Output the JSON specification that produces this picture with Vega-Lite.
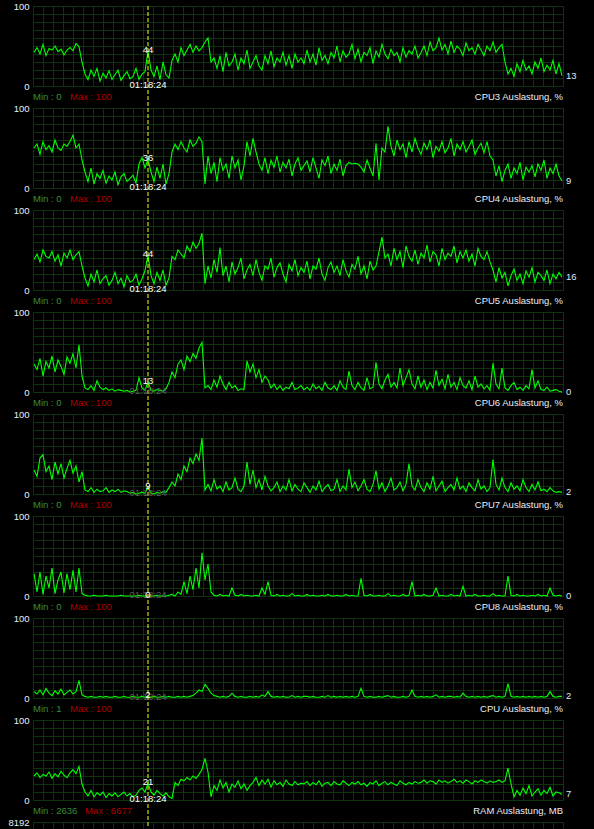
{
"$schema":"https://vega.github.io/schema/vega-lite/v6.json",
"background":"#000000",
"padding":{"left":7,"top":1,"right":18,"bottom":0},
"autosize":{"type":"pad"},
"spacing":22,
"bounds":"flush",
"config":{
 "view":{"stroke":null},
 "axis":{"domain":false,"ticks":false,"tickSize":0,"gridColor":"#0e340e","gridOpacity":1,"gridWidth":1,"labelColor":"#e8eef8","labelFont":"Liberation Sans","labelFontSize":9.5,"labelPadding":3.872},
 "text":{"font":"Liberation Sans","fontSize":9.5,"baseline":"middle"},
 "line":{"color":"#00ff00","strokeWidth":1.1},
 "rule":{"color":"#ffff00","strokeDash":[4,2],"strokeWidth":1,"xOffset":0.5}
},
"datasets":{"m":[
{"t":1,"a":42,"b":50,"c":38,"d":35,"e":30,"f":28,"g":8,"h":30},
{"t":4,"a":48,"b":55,"c":45,"d":28,"e":22,"f":5,"g":5,"h":34},
{"t":7,"a":40,"b":42,"c":35,"d":42,"e":45,"f":30,"g":10,"h":28},
{"t":10,"a":52,"b":58,"c":50,"d":20,"e":49,"f":2,"g":4,"h":32},
{"t":13,"a":38,"b":48,"c":42,"d":38,"e":28,"f":25,"g":12,"h":30},
{"t":16,"a":47,"b":53,"c":40,"d":30,"e":35,"f":10,"g":6,"h":35},
{"t":19,"a":45,"b":45,"c":48,"d":45,"e":18,"f":35,"g":3,"h":27},
{"t":22,"a":50,"b":60,"c":36,"d":25,"e":40,"f":3,"g":9,"h":33},
{"t":25,"a":43,"b":50,"c":44,"d":40,"e":25,"f":20,"g":5,"h":29},
{"t":28,"a":46,"b":47,"c":30,"d":32,"e":38,"f":30,"g":11,"h":36},
{"t":31,"a":39,"b":55,"c":46,"d":22,"e":20,"f":4,"g":4,"h":31},
{"t":34,"a":45,"b":52,"c":40,"d":44,"e":32,"f":28,"g":7,"h":28},
{"t":37,"a":48,"b":58,"c":50,"d":36,"e":42,"f":8,"g":10,"h":34},
{"t":40,"a":44,"b":66,"c":38,"d":48,"e":26,"f":32,"g":5,"h":38},
{"t":43,"a":53,"b":50,"c":44,"d":30,"e":35,"f":5,"g":8,"h":33},
{"t":46,"a":49,"b":55,"c":48,"d":59,"e":15,"f":35,"g":22,"h":42},
{"t":49,"a":30,"b":35,"c":30,"d":20,"e":28,"f":3,"g":4,"h":20},
{"t":52,"a":15,"b":20,"c":15,"d":5,"e":5,"f":1,"g":2,"h":10},
{"t":55,"a":8,"b":8,"c":5,"d":3,"e":3,"f":0,"g":1,"h":5},
{"t":58,"a":20,"b":25,"c":20,"d":8,"e":8,"f":0,"g":2,"h":12},
{"t":61,"a":12,"b":5,"c":10,"d":2,"e":2,"f":1,"g":1,"h":4},
{"t":64,"a":22,"b":18,"c":25,"d":14,"e":6,"f":0,"g":1,"h":9},
{"t":67,"a":6,"b":12,"c":8,"d":6,"e":3,"f":0,"g":2,"h":6},
{"t":70,"a":16,"b":22,"c":14,"d":3,"e":4,"f":0,"g":1,"h":10},
{"t":73,"a":10,"b":6,"c":18,"d":5,"e":8,"f":1,"g":2,"h":3},
{"t":76,"a":19,"b":15,"c":6,"d":2,"e":2,"f":0,"g":1,"h":8},
{"t":79,"a":8,"b":10,"c":12,"d":4,"e":5,"f":0,"g":1,"h":5},
{"t":82,"a":14,"b":20,"c":22,"d":1,"e":3,"f":0,"g":2,"h":9},
{"t":85,"a":20,"b":4,"c":8,"d":3,"e":6,"f":0,"g":1,"h":4},
{"t":88,"a":7,"b":14,"c":15,"d":2,"e":2,"f":1,"g":1,"h":7},
{"t":91,"a":13,"b":18,"c":4,"d":1,"e":4,"f":0,"g":2,"h":10},
{"t":94,"a":18,"b":8,"c":18,"d":2,"e":3,"f":0,"g":1,"h":5},
{"t":97,"a":9,"b":12,"c":10,"d":0,"e":1,"f":0,"g":1,"h":8},
{"t":100,"a":12,"b":16,"c":12,"d":1,"e":2,"f":0,"g":2,"h":4},
{"t":103,"a":22,"b":6,"c":20,"d":2,"e":0,"f":0,"g":1,"h":6},
{"t":106,"a":8,"b":30,"c":6,"d":18,"e":1,"f":1,"g":1,"h":12},
{"t":109,"a":15,"b":38,"c":14,"d":5,"e":2,"f":0,"g":2,"h":15},
{"t":112,"a":18,"b":25,"c":24,"d":2,"e":1,"f":0,"g":1,"h":10},
{"t":115,"a":44,"b":36,"c":44,"d":13,"e":9,"f":0,"g":2,"h":21},
{"t":118,"a":20,"b":20,"c":18,"d":2,"e":1,"f":0,"g":1,"h":10},
{"t":121,"a":12,"b":8,"c":8,"d":1,"e":0,"f":0,"g":2,"h":6},
{"t":124,"a":25,"b":26,"c":22,"d":3,"e":2,"f":1,"g":1,"h":12},
{"t":127,"a":8,"b":12,"c":12,"d":2,"e":1,"f":0,"g":1,"h":8},
{"t":130,"a":30,"b":30,"c":25,"d":1,"e":3,"f":0,"g":2,"h":5},
{"t":133,"a":14,"b":5,"c":6,"d":4,"e":2,"f":0,"g":1,"h":9},
{"t":136,"a":10,"b":18,"c":15,"d":12,"e":8,"f":1,"g":2,"h":4},
{"t":139,"a":32,"b":45,"c":42,"d":25,"e":15,"f":2,"g":1,"h":2},
{"t":142,"a":40,"b":55,"c":38,"d":18,"e":10,"f":0,"g":1,"h":22},
{"t":145,"a":30,"b":48,"c":50,"d":35,"e":25,"f":5,"g":2,"h":18},
{"t":148,"a":48,"b":58,"c":45,"d":40,"e":18,"f":2,"g":1,"h":26},
{"t":151,"a":38,"b":50,"c":40,"d":28,"e":35,"f":18,"g":2,"h":24},
{"t":154,"a":45,"b":45,"c":55,"d":45,"e":28,"f":3,"g":1,"h":28},
{"t":157,"a":52,"b":60,"c":48,"d":38,"e":45,"f":25,"g":2,"h":25},
{"t":160,"a":42,"b":52,"c":60,"d":48,"e":38,"f":8,"g":3,"h":30},
{"t":163,"a":50,"b":56,"c":52,"d":42,"e":50,"f":35,"g":6,"h":27},
{"t":166,"a":44,"b":64,"c":58,"d":55,"e":42,"f":10,"g":10,"h":32},
{"t":169,"a":48,"b":58,"c":71,"d":62,"e":70,"f":54,"g":8,"h":38},
{"t":172,"a":55,"b":5,"c":8,"d":5,"e":5,"f":20,"g":17,"h":52},
{"t":175,"a":60,"b":40,"c":30,"d":8,"e":12,"f":40,"g":12,"h":35},
{"t":178,"a":30,"b":18,"c":15,"d":3,"e":4,"f":5,"g":6,"h":4},
{"t":181,"a":35,"b":32,"c":38,"d":15,"e":18,"f":1,"g":3,"h":18},
{"t":184,"a":22,"b":8,"c":22,"d":6,"e":6,"f":0,"g":2,"h":12},
{"t":187,"a":38,"b":38,"c":53,"d":20,"e":10,"f":2,"g":1,"h":25},
{"t":190,"a":18,"b":22,"c":18,"d":10,"e":3,"f":0,"g":2,"h":15},
{"t":193,"a":42,"b":30,"c":30,"d":3,"e":15,"f":1,"g":1,"h":22},
{"t":196,"a":25,"b":12,"c":10,"d":12,"e":5,"f":0,"g":2,"h":10},
{"t":199,"a":30,"b":40,"c":35,"d":5,"e":8,"f":10,"g":6,"h":20},
{"t":202,"a":40,"b":25,"c":20,"d":8,"e":20,"f":1,"g":2,"h":16},
{"t":205,"a":20,"b":35,"c":28,"d":2,"e":6,"f":0,"g":1,"h":24},
{"t":208,"a":35,"b":10,"c":40,"d":4,"e":3,"f":2,"g":2,"h":14},
{"t":211,"a":28,"b":28,"c":14,"d":3,"e":10,"f":0,"g":1,"h":20},
{"t":214,"a":45,"b":58,"c":25,"d":39,"e":40,"f":1,"g":1,"h":12},
{"t":217,"a":22,"b":40,"c":32,"d":25,"e":12,"f":0,"g":2,"h":18},
{"t":220,"a":30,"b":62,"c":18,"d":35,"e":30,"f":0,"g":1,"h":22},
{"t":223,"a":38,"b":45,"c":38,"d":18,"e":8,"f":1,"g":2,"h":28},
{"t":226,"a":25,"b":30,"c":22,"d":28,"e":18,"f":0,"g":1,"h":18},
{"t":229,"a":20,"b":22,"c":12,"d":12,"e":5,"f":10,"g":4,"h":25},
{"t":232,"a":38,"b":38,"c":30,"d":20,"e":22,"f":2,"g":2,"h":20},
{"t":235,"a":28,"b":18,"c":26,"d":15,"e":10,"f":18,"g":8,"h":26},
{"t":238,"a":44,"b":35,"c":40,"d":5,"e":4,"f":1,"g":2,"h":16},
{"t":241,"a":24,"b":26,"c":16,"d":10,"e":8,"f":0,"g":1,"h":24},
{"t":244,"a":35,"b":40,"c":28,"d":3,"e":15,"f":2,"g":2,"h":19},
{"t":247,"a":30,"b":20,"c":34,"d":8,"e":3,"f":0,"g":1,"h":22},
{"t":250,"a":42,"b":32,"c":20,"d":2,"e":10,"f":1,"g":2,"h":17},
{"t":253,"a":26,"b":25,"c":10,"d":6,"e":5,"f":0,"g":1,"h":25},
{"t":256,"a":38,"b":36,"c":32,"d":4,"e":18,"f":0,"g":1,"h":20},
{"t":259,"a":22,"b":15,"c":24,"d":12,"e":4,"f":3,"g":3,"h":18},
{"t":262,"a":40,"b":30,"c":38,"d":3,"e":12,"f":0,"g":1,"h":23},
{"t":265,"a":30,"b":38,"c":18,"d":5,"e":6,"f":1,"g":2,"h":19},
{"t":268,"a":35,"b":22,"c":28,"d":8,"e":3,"f":0,"g":1,"h":21},
{"t":271,"a":28,"b":28,"c":22,"d":3,"e":14,"f":0,"g":2,"h":20},
{"t":274,"a":45,"b":34,"c":36,"d":6,"e":8,"f":2,"g":2,"h":23},
{"t":277,"a":30,"b":20,"c":14,"d":2,"e":2,"f":0,"g":1,"h":18},
{"t":280,"a":40,"b":38,"c":30,"d":10,"e":10,"f":1,"g":2,"h":22},
{"t":283,"a":26,"b":25,"c":26,"d":4,"e":5,"f":0,"g":1,"h":19},
{"t":286,"a":48,"b":12,"c":40,"d":7,"e":16,"f":0,"g":1,"h":24},
{"t":289,"a":32,"b":35,"c":20,"d":2,"e":3,"f":1,"g":2,"h":17},
{"t":292,"a":38,"b":28,"c":12,"d":12,"e":8,"f":0,"g":1,"h":21},
{"t":295,"a":28,"b":40,"c":28,"d":5,"e":12,"f":2,"g":3,"h":22},
{"t":298,"a":42,"b":18,"c":35,"d":3,"e":4,"f":0,"g":1,"h":18},
{"t":301,"a":35,"b":30,"c":22,"d":8,"e":6,"f":0,"g":2,"h":23},
{"t":304,"a":50,"b":22,"c":30,"d":2,"e":18,"f":1,"g":1,"h":20},
{"t":307,"a":30,"b":36,"c":18,"d":14,"e":3,"f":0,"g":2,"h":19},
{"t":310,"a":44,"b":15,"c":38,"d":6,"e":10,"f":0,"g":1,"h":24},
{"t":313,"a":36,"b":28,"c":24,"d":3,"e":5,"f":2,"g":2,"h":21},
{"t":316,"a":40,"b":32,"c":16,"d":26,"e":31,"f":0,"g":1,"h":18},
{"t":319,"a":52,"b":30,"c":32,"d":8,"e":8,"f":1,"g":2,"h":22},
{"t":322,"a":34,"b":31,"c":26,"d":3,"e":15,"f":0,"g":1,"h":20},
{"t":325,"a":46,"b":30,"c":42,"d":12,"e":4,"f":0,"g":2,"h":23},
{"t":328,"a":30,"b":26,"c":20,"d":5,"e":10,"f":22,"g":12,"h":19},
{"t":331,"a":42,"b":20,"c":30,"d":2,"e":18,"f":1,"g":2,"h":21},
{"t":334,"a":38,"b":35,"c":14,"d":18,"e":6,"f":0,"g":1,"h":17},
{"t":337,"a":48,"b":25,"c":36,"d":4,"e":3,"f":2,"g":2,"h":22},
{"t":340,"a":28,"b":15,"c":25,"d":6,"e":12,"f":0,"g":1,"h":20},
{"t":343,"a":44,"b":56,"c":30,"d":37,"e":29,"f":0,"g":1,"h":24},
{"t":346,"a":36,"b":10,"c":48,"d":10,"e":6,"f":1,"g":2,"h":18},
{"t":349,"a":52,"b":50,"c":66,"d":4,"e":14,"f":0,"g":1,"h":21},
{"t":352,"a":40,"b":45,"c":40,"d":15,"e":3,"f":0,"g":2,"h":23},
{"t":355,"a":34,"b":77,"c":45,"d":22,"e":10,"f":3,"g":3,"h":19},
{"t":358,"a":46,"b":52,"c":30,"d":6,"e":20,"f":0,"g":1,"h":22},
{"t":361,"a":38,"b":40,"c":52,"d":12,"e":5,"f":1,"g":2,"h":20},
{"t":364,"a":42,"b":60,"c":38,"d":5,"e":8,"f":0,"g":1,"h":18},
{"t":367,"a":30,"b":48,"c":48,"d":30,"e":15,"f":0,"g":1,"h":24},
{"t":370,"a":48,"b":55,"c":28,"d":8,"e":4,"f":2,"g":2,"h":21},
{"t":373,"a":36,"b":38,"c":55,"d":18,"e":12,"f":0,"g":1,"h":19},
{"t":376,"a":44,"b":58,"c":42,"d":28,"e":38,"f":1,"g":2,"h":22},
{"t":379,"a":40,"b":45,"c":36,"d":10,"e":10,"f":18,"g":10,"h":20},
{"t":382,"a":50,"b":62,"c":50,"d":4,"e":5,"f":0,"g":2,"h":23},
{"t":385,"a":35,"b":50,"c":32,"d":20,"e":18,"f":1,"g":1,"h":21},
{"t":388,"a":42,"b":42,"c":46,"d":6,"e":8,"f":0,"g":2,"h":22},
{"t":391,"a":50,"b":56,"c":40,"d":15,"e":3,"f":2,"g":1,"h":25},
{"t":394,"a":38,"b":48,"c":56,"d":3,"e":14,"f":0,"g":2,"h":21},
{"t":397,"a":55,"b":60,"c":35,"d":12,"e":6,"f":0,"g":1,"h":24},
{"t":400,"a":44,"b":38,"c":48,"d":5,"e":22,"f":1,"g":2,"h":23},
{"t":403,"a":48,"b":52,"c":44,"d":27,"e":4,"f":10,"g":4,"h":20},
{"t":406,"a":60,"b":46,"c":30,"d":8,"e":10,"f":0,"g":1,"h":25},
{"t":409,"a":45,"b":58,"c":52,"d":16,"e":16,"f":1,"g":2,"h":22},
{"t":412,"a":52,"b":44,"c":38,"d":4,"e":3,"f":0,"g":1,"h":24},
{"t":415,"a":40,"b":50,"c":46,"d":22,"e":8,"f":0,"g":2,"h":21},
{"t":418,"a":56,"b":62,"c":42,"d":6,"e":12,"f":2,"g":2,"h":23},
{"t":421,"a":42,"b":40,"c":55,"d":12,"e":5,"f":0,"g":1,"h":26},
{"t":424,"a":50,"b":55,"c":34,"d":3,"e":20,"f":1,"g":2,"h":22},
{"t":427,"a":46,"b":48,"c":48,"d":18,"e":6,"f":0,"g":1,"h":24},
{"t":430,"a":38,"b":58,"c":40,"d":8,"e":10,"f":12,"g":6,"h":21},
{"t":433,"a":54,"b":45,"c":50,"d":5,"e":3,"f":0,"g":2,"h":25},
{"t":436,"a":44,"b":52,"c":36,"d":14,"e":14,"f":1,"g":1,"h":23},
{"t":439,"a":48,"b":60,"c":45,"d":3,"e":8,"f":0,"g":2,"h":20},
{"t":442,"a":40,"b":42,"c":30,"d":20,"e":4,"f":2,"g":1,"h":24},
{"t":445,"a":52,"b":50,"c":52,"d":6,"e":18,"f":0,"g":2,"h":22},
{"t":448,"a":45,"b":56,"c":42,"d":10,"e":6,"f":0,"g":1,"h":25},
{"t":451,"a":38,"b":44,"c":38,"d":4,"e":10,"f":1,"g":2,"h":23},
{"t":454,"a":50,"b":58,"c":48,"d":8,"e":3,"f":0,"g":1,"h":21},
{"t":457,"a":44,"b":40,"c":35,"d":2,"e":8,"f":0,"g":2,"h":24},
{"t":460,"a":55,"b":35,"c":25,"d":36,"e":43,"f":3,"g":3,"h":22},
{"t":463,"a":42,"b":15,"c":10,"d":10,"e":12,"f":0,"g":1,"h":23},
{"t":466,"a":48,"b":28,"c":28,"d":4,"e":5,"f":1,"g":2,"h":25},
{"t":469,"a":52,"b":8,"c":15,"d":30,"e":20,"f":0,"g":1,"h":22},
{"t":472,"a":30,"b":22,"c":22,"d":5,"e":8,"f":0,"g":2,"h":24},
{"t":475,"a":15,"b":30,"c":5,"d":2,"e":3,"f":25,"g":18,"h":40},
{"t":478,"a":22,"b":12,"c":18,"d":8,"e":14,"f":1,"g":2,"h":20},
{"t":481,"a":12,"b":25,"c":26,"d":12,"e":6,"f":0,"g":1,"h":4},
{"t":484,"a":28,"b":18,"c":12,"d":3,"e":10,"f":2,"g":2,"h":12},
{"t":487,"a":18,"b":32,"c":20,"d":6,"e":4,"f":0,"g":1,"h":6},
{"t":490,"a":32,"b":10,"c":8,"d":2,"e":18,"f":1,"g":2,"h":15},
{"t":493,"a":20,"b":26,"c":24,"d":8,"e":8,"f":0,"g":1,"h":8},
{"t":496,"a":25,"b":20,"c":16,"d":4,"e":3,"f":0,"g":2,"h":18},
{"t":499,"a":15,"b":28,"c":28,"d":28,"e":12,"f":1,"g":1,"h":5},
{"t":502,"a":30,"b":14,"c":10,"d":5,"e":5,"f":0,"g":2,"h":10},
{"t":505,"a":22,"b":30,"c":22,"d":14,"e":15,"f":2,"g":1,"h":14},
{"t":508,"a":35,"b":22,"c":18,"d":3,"e":4,"f":0,"g":2,"h":6},
{"t":511,"a":18,"b":35,"c":12,"d":2,"e":6,"f":1,"g":1,"h":12},
{"t":514,"a":26,"b":12,"c":25,"d":6,"e":3,"f":0,"g":2,"h":8},
{"t":517,"a":20,"b":25,"c":8,"d":1,"e":8,"f":10,"g":8,"h":16},
{"t":520,"a":32,"b":18,"c":20,"d":2,"e":4,"f":1,"g":2,"h":5},
{"t":523,"a":15,"b":30,"c":14,"d":3,"e":2,"f":0,"g":1,"h":10},
{"t":526,"a":28,"b":15,"c":22,"d":1,"e":3,"f":1,"g":2,"h":9},
{"t":529,"a":13,"b":9,"c":16,"d":0,"e":2,"f":0,"g":2,"h":7}
]},
"vconcat":[
{"width":530,"height":80,"data":{"name":"m"},
 "encoding":{"x":{"field":"t","type":"quantitative","title":null,"scale":{"domain":[0,530],"nice":false},"axis":{"labels":false,"tickCount":53,"grid":true,"gridColor":"#0e340e"}},
  "y":{"field":"a","type":"quantitative","title":null,"scale":{"domain":[0,100],"nice":false},"axis":{"tickCount":10,"grid":true,"gridColor":"#0e340e","labelFlush":false,"labelOverlap":false,"labelExpr":"datum.value == 100 || datum.value == 0 ? datum.label : ''"}}},
 "layer":[
  {"mark":"line"},
  {"transform":[{"filter":"datum.t == 115"}],"mark":"rule","encoding":{"y":{"datum":100,"type":"quantitative"},"y2":{"datum":-27.5}}},
  {"transform":[{"filter":"datum.t == 115"}],"mark":{"type":"text","text":"01:18:24","dy":-1,"color":"#ffffff"},"encoding":{"y":{"datum":0,"type":"quantitative"}}},
  {"transform":[{"filter":"datum.t == 115"}],"mark":{"type":"text","dy":-1,"color":"#ffffff"},"encoding":{"text":{"field":"a","type":"quantitative"}}},
  {"transform":[{"filter":"datum.t == 529"}],"mark":{"type":"text","align":"left","dx":4,"color":"#dfe8ff"},"encoding":{"text":{"field":"a","type":"quantitative"}}},
  {"transform":[{"filter":"datum.t == 529"}],"mark":{"type":"text","text":"CPU3 Auslastung, %","align":"right","color":"#e8eef8"},"encoding":{"x":{"datum":530,"type":"quantitative"},"y":{"datum":-13.75,"type":"quantitative"}}},
  {"transform":[{"filter":"datum.t == 529"}],"mark":{"type":"text","text":"Min : 0","align":"left","color":"#3a8f3a"},"encoding":{"x":{"datum":0,"type":"quantitative"},"y":{"datum":-13.75,"type":"quantitative"}}},
  {"transform":[{"filter":"datum.t == 529"}],"mark":{"type":"text","text":"Max : 100","align":"left","color":"#b00000"},"encoding":{"x":{"datum":37,"type":"quantitative"},"y":{"datum":-13.75,"type":"quantitative"}}}
 ]},
{"width":530,"height":80,"data":{"name":"m"},
 "encoding":{"x":{"field":"t","type":"quantitative","title":null,"scale":{"domain":[0,530],"nice":false},"axis":{"labels":false,"tickCount":53,"grid":true,"gridColor":"#0e340e"}},
  "y":{"field":"b","type":"quantitative","title":null,"scale":{"domain":[0,100],"nice":false},"axis":{"tickCount":10,"grid":true,"gridColor":"#0e340e","labelFlush":false,"labelOverlap":false,"labelExpr":"datum.value == 100 || datum.value == 0 ? datum.label : ''"}}},
 "layer":[
  {"mark":"line"},
  {"transform":[{"filter":"datum.t == 115"}],"mark":"rule","encoding":{"y":{"datum":100,"type":"quantitative"},"y2":{"datum":-27.5}}},
  {"transform":[{"filter":"datum.t == 115"}],"mark":{"type":"text","text":"01:18:24","dy":-1,"color":"#ffffff"},"encoding":{"y":{"datum":0,"type":"quantitative"}}},
  {"transform":[{"filter":"datum.t == 115"}],"mark":{"type":"text","dy":-1,"color":"#ffffff"},"encoding":{"text":{"field":"b","type":"quantitative"}}},
  {"transform":[{"filter":"datum.t == 529"}],"mark":{"type":"text","align":"left","dx":4,"color":"#dfe8ff"},"encoding":{"text":{"field":"b","type":"quantitative"}}},
  {"transform":[{"filter":"datum.t == 529"}],"mark":{"type":"text","text":"CPU4 Auslastung, %","align":"right","color":"#e8eef8"},"encoding":{"x":{"datum":530,"type":"quantitative"},"y":{"datum":-13.75,"type":"quantitative"}}},
  {"transform":[{"filter":"datum.t == 529"}],"mark":{"type":"text","text":"Min : 0","align":"left","color":"#3a8f3a"},"encoding":{"x":{"datum":0,"type":"quantitative"},"y":{"datum":-13.75,"type":"quantitative"}}},
  {"transform":[{"filter":"datum.t == 529"}],"mark":{"type":"text","text":"Max : 100","align":"left","color":"#b00000"},"encoding":{"x":{"datum":37,"type":"quantitative"},"y":{"datum":-13.75,"type":"quantitative"}}}
 ]},
{"width":530,"height":80,"data":{"name":"m"},
 "encoding":{"x":{"field":"t","type":"quantitative","title":null,"scale":{"domain":[0,530],"nice":false},"axis":{"labels":false,"tickCount":53,"grid":true,"gridColor":"#0e340e"}},
  "y":{"field":"c","type":"quantitative","title":null,"scale":{"domain":[0,100],"nice":false},"axis":{"tickCount":10,"grid":true,"gridColor":"#0e340e","labelFlush":false,"labelOverlap":false,"labelExpr":"datum.value == 100 || datum.value == 0 ? datum.label : ''"}}},
 "layer":[
  {"mark":"line"},
  {"transform":[{"filter":"datum.t == 115"}],"mark":"rule","encoding":{"y":{"datum":100,"type":"quantitative"},"y2":{"datum":-27.5}}},
  {"transform":[{"filter":"datum.t == 115"}],"mark":{"type":"text","text":"01:18:24","dy":-1,"color":"#ffffff"},"encoding":{"y":{"datum":0,"type":"quantitative"}}},
  {"transform":[{"filter":"datum.t == 115"}],"mark":{"type":"text","dy":-1,"color":"#ffffff"},"encoding":{"text":{"field":"c","type":"quantitative"}}},
  {"transform":[{"filter":"datum.t == 529"}],"mark":{"type":"text","align":"left","dx":4,"color":"#dfe8ff"},"encoding":{"text":{"field":"c","type":"quantitative"}}},
  {"transform":[{"filter":"datum.t == 529"}],"mark":{"type":"text","text":"CPU5 Auslastung, %","align":"right","color":"#e8eef8"},"encoding":{"x":{"datum":530,"type":"quantitative"},"y":{"datum":-13.75,"type":"quantitative"}}},
  {"transform":[{"filter":"datum.t == 529"}],"mark":{"type":"text","text":"Min : 0","align":"left","color":"#3a8f3a"},"encoding":{"x":{"datum":0,"type":"quantitative"},"y":{"datum":-13.75,"type":"quantitative"}}},
  {"transform":[{"filter":"datum.t == 529"}],"mark":{"type":"text","text":"Max : 100","align":"left","color":"#b00000"},"encoding":{"x":{"datum":37,"type":"quantitative"},"y":{"datum":-13.75,"type":"quantitative"}}}
 ]},
{"width":530,"height":80,"data":{"name":"m"},
 "encoding":{"x":{"field":"t","type":"quantitative","title":null,"scale":{"domain":[0,530],"nice":false},"axis":{"labels":false,"tickCount":53,"grid":true,"gridColor":"#0e340e"}},
  "y":{"field":"d","type":"quantitative","title":null,"scale":{"domain":[0,100],"nice":false},"axis":{"tickCount":10,"grid":true,"gridColor":"#0e340e","labelFlush":false,"labelOverlap":false,"labelExpr":"datum.value == 100 || datum.value == 0 ? datum.label : ''"}}},
 "layer":[
  {"mark":"line"},
  {"transform":[{"filter":"datum.t == 115"}],"mark":"rule","encoding":{"y":{"datum":100,"type":"quantitative"},"y2":{"datum":-27.5}}},
  {"transform":[{"filter":"datum.t == 115"}],"mark":{"type":"text","text":"01:18:24","dy":-1,"color":"#5c5c5c"},"encoding":{"y":{"datum":0,"type":"quantitative"}}},
  {"transform":[{"filter":"datum.t == 115"}],"mark":{"type":"text","dy":-1,"color":"#ffffff"},"encoding":{"text":{"field":"d","type":"quantitative"}}},
  {"transform":[{"filter":"datum.t == 529"}],"mark":{"type":"text","align":"left","dx":4,"color":"#dfe8ff"},"encoding":{"text":{"field":"d","type":"quantitative"}}},
  {"transform":[{"filter":"datum.t == 529"}],"mark":{"type":"text","text":"CPU6 Auslastung, %","align":"right","color":"#e8eef8"},"encoding":{"x":{"datum":530,"type":"quantitative"},"y":{"datum":-13.75,"type":"quantitative"}}},
  {"transform":[{"filter":"datum.t == 529"}],"mark":{"type":"text","text":"Min : 0","align":"left","color":"#3a8f3a"},"encoding":{"x":{"datum":0,"type":"quantitative"},"y":{"datum":-13.75,"type":"quantitative"}}},
  {"transform":[{"filter":"datum.t == 529"}],"mark":{"type":"text","text":"Max : 100","align":"left","color":"#b00000"},"encoding":{"x":{"datum":37,"type":"quantitative"},"y":{"datum":-13.75,"type":"quantitative"}}}
 ]},
{"width":530,"height":80,"data":{"name":"m"},
 "encoding":{"x":{"field":"t","type":"quantitative","title":null,"scale":{"domain":[0,530],"nice":false},"axis":{"labels":false,"tickCount":53,"grid":true,"gridColor":"#0e340e"}},
  "y":{"field":"e","type":"quantitative","title":null,"scale":{"domain":[0,100],"nice":false},"axis":{"tickCount":10,"grid":true,"gridColor":"#0e340e","labelFlush":false,"labelOverlap":false,"labelExpr":"datum.value == 100 || datum.value == 0 ? datum.label : ''"}}},
 "layer":[
  {"mark":"line"},
  {"transform":[{"filter":"datum.t == 115"}],"mark":"rule","encoding":{"y":{"datum":100,"type":"quantitative"},"y2":{"datum":-27.5}}},
  {"transform":[{"filter":"datum.t == 115"}],"mark":{"type":"text","text":"01:18:24","dy":-1,"color":"#5c5c5c"},"encoding":{"y":{"datum":0,"type":"quantitative"}}},
  {"transform":[{"filter":"datum.t == 115"}],"mark":{"type":"text","dy":-1,"color":"#ffffff"},"encoding":{"text":{"field":"e","type":"quantitative"}}},
  {"transform":[{"filter":"datum.t == 529"}],"mark":{"type":"text","align":"left","dx":4,"color":"#dfe8ff"},"encoding":{"text":{"field":"e","type":"quantitative"}}},
  {"transform":[{"filter":"datum.t == 529"}],"mark":{"type":"text","text":"CPU7 Auslastung, %","align":"right","color":"#e8eef8"},"encoding":{"x":{"datum":530,"type":"quantitative"},"y":{"datum":-13.75,"type":"quantitative"}}},
  {"transform":[{"filter":"datum.t == 529"}],"mark":{"type":"text","text":"Min : 0","align":"left","color":"#3a8f3a"},"encoding":{"x":{"datum":0,"type":"quantitative"},"y":{"datum":-13.75,"type":"quantitative"}}},
  {"transform":[{"filter":"datum.t == 529"}],"mark":{"type":"text","text":"Max : 100","align":"left","color":"#b00000"},"encoding":{"x":{"datum":37,"type":"quantitative"},"y":{"datum":-13.75,"type":"quantitative"}}}
 ]},
{"width":530,"height":80,"data":{"name":"m"},
 "encoding":{"x":{"field":"t","type":"quantitative","title":null,"scale":{"domain":[0,530],"nice":false},"axis":{"labels":false,"tickCount":53,"grid":true,"gridColor":"#0e340e"}},
  "y":{"field":"f","type":"quantitative","title":null,"scale":{"domain":[0,100],"nice":false},"axis":{"tickCount":10,"grid":true,"gridColor":"#0e340e","labelFlush":false,"labelOverlap":false,"labelExpr":"datum.value == 100 || datum.value == 0 ? datum.label : ''"}}},
 "layer":[
  {"mark":"line"},
  {"transform":[{"filter":"datum.t == 115"}],"mark":"rule","encoding":{"y":{"datum":100,"type":"quantitative"},"y2":{"datum":-27.5}}},
  {"transform":[{"filter":"datum.t == 115"}],"mark":{"type":"text","text":"01:18:24","dy":-1,"color":"#5c5c5c"},"encoding":{"y":{"datum":0,"type":"quantitative"}}},
  {"transform":[{"filter":"datum.t == 115"}],"mark":{"type":"text","dy":-1,"color":"#ffffff"},"encoding":{"text":{"field":"f","type":"quantitative"}}},
  {"transform":[{"filter":"datum.t == 529"}],"mark":{"type":"text","align":"left","dx":4,"color":"#dfe8ff"},"encoding":{"text":{"field":"f","type":"quantitative"}}},
  {"transform":[{"filter":"datum.t == 529"}],"mark":{"type":"text","text":"CPU8 Auslastung, %","align":"right","color":"#e8eef8"},"encoding":{"x":{"datum":530,"type":"quantitative"},"y":{"datum":-13.75,"type":"quantitative"}}},
  {"transform":[{"filter":"datum.t == 529"}],"mark":{"type":"text","text":"Min : 0","align":"left","color":"#3a8f3a"},"encoding":{"x":{"datum":0,"type":"quantitative"},"y":{"datum":-13.75,"type":"quantitative"}}},
  {"transform":[{"filter":"datum.t == 529"}],"mark":{"type":"text","text":"Max : 100","align":"left","color":"#b00000"},"encoding":{"x":{"datum":37,"type":"quantitative"},"y":{"datum":-13.75,"type":"quantitative"}}}
 ]},
{"width":530,"height":80,"data":{"name":"m"},
 "encoding":{"x":{"field":"t","type":"quantitative","title":null,"scale":{"domain":[0,530],"nice":false},"axis":{"labels":false,"tickCount":53,"grid":true,"gridColor":"#0e340e"}},
  "y":{"field":"g","type":"quantitative","title":null,"scale":{"domain":[0,100],"nice":false},"axis":{"tickCount":10,"grid":true,"gridColor":"#0e340e","labelFlush":false,"labelOverlap":false,"labelExpr":"datum.value == 100 || datum.value == 0 ? datum.label : ''"}}},
 "layer":[
  {"mark":"line"},
  {"transform":[{"filter":"datum.t == 115"}],"mark":"rule","encoding":{"y":{"datum":100,"type":"quantitative"},"y2":{"datum":-27.5}}},
  {"transform":[{"filter":"datum.t == 115"}],"mark":{"type":"text","text":"01:18:24","dy":-1,"color":"#5c5c5c"},"encoding":{"y":{"datum":0,"type":"quantitative"}}},
  {"transform":[{"filter":"datum.t == 115"}],"mark":{"type":"text","dy":-1,"color":"#ffffff"},"encoding":{"text":{"field":"g","type":"quantitative"}}},
  {"transform":[{"filter":"datum.t == 529"}],"mark":{"type":"text","align":"left","dx":4,"color":"#dfe8ff"},"encoding":{"text":{"field":"g","type":"quantitative"}}},
  {"transform":[{"filter":"datum.t == 529"}],"mark":{"type":"text","text":"CPU Auslastung, %","align":"right","color":"#e8eef8"},"encoding":{"x":{"datum":530,"type":"quantitative"},"y":{"datum":-13.75,"type":"quantitative"}}},
  {"transform":[{"filter":"datum.t == 529"}],"mark":{"type":"text","text":"Min : 1","align":"left","color":"#3a8f3a"},"encoding":{"x":{"datum":0,"type":"quantitative"},"y":{"datum":-13.75,"type":"quantitative"}}},
  {"transform":[{"filter":"datum.t == 529"}],"mark":{"type":"text","text":"Max : 100","align":"left","color":"#b00000"},"encoding":{"x":{"datum":37,"type":"quantitative"},"y":{"datum":-13.75,"type":"quantitative"}}}
 ]},
{"width":530,"height":80,"data":{"name":"m"},
 "encoding":{"x":{"field":"t","type":"quantitative","title":null,"scale":{"domain":[0,530],"nice":false},"axis":{"labels":false,"tickCount":53,"grid":true,"gridColor":"#0e340e"}},
  "y":{"field":"h","type":"quantitative","title":null,"scale":{"domain":[0,100],"nice":false},"axis":{"tickCount":10,"grid":true,"gridColor":"#0e340e","labelFlush":false,"labelOverlap":false,"labelExpr":"datum.value == 100 || datum.value == 0 ? datum.label : ''"}}},
 "layer":[
  {"mark":"line"},
  {"transform":[{"filter":"datum.t == 115"}],"mark":"rule","encoding":{"y":{"datum":100,"type":"quantitative"},"y2":{"datum":-27.5}}},
  {"transform":[{"filter":"datum.t == 115"}],"mark":{"type":"text","text":"01:18:24","dy":-1,"color":"#ffffff"},"encoding":{"y":{"datum":0,"type":"quantitative"}}},
  {"transform":[{"filter":"datum.t == 115"}],"mark":{"type":"text","dy":-1,"color":"#ffffff"},"encoding":{"text":{"field":"h","type":"quantitative"}}},
  {"transform":[{"filter":"datum.t == 529"}],"mark":{"type":"text","align":"left","dx":4,"color":"#dfe8ff"},"encoding":{"text":{"field":"h","type":"quantitative"}}},
  {"transform":[{"filter":"datum.t == 529"}],"mark":{"type":"text","text":"RAM Auslastung, MB","align":"right","color":"#e8eef8"},"encoding":{"x":{"datum":530,"type":"quantitative"},"y":{"datum":-13.75,"type":"quantitative"}}},
  {"transform":[{"filter":"datum.t == 529"}],"mark":{"type":"text","text":"Min : 2636","align":"left","color":"#3a8f3a"},"encoding":{"x":{"datum":0,"type":"quantitative"},"y":{"datum":-13.75,"type":"quantitative"}}},
  {"transform":[{"filter":"datum.t == 529"}],"mark":{"type":"text","text":"Max : 6677","align":"left","color":"#b00000"},"encoding":{"x":{"datum":52,"type":"quantitative"},"y":{"datum":-13.75,"type":"quantitative"}}}
 ]},
{"width":530,"height":6,"data":{"name":"m"},
 "transform":[{"filter":"datum.t == 115"}],
 "mark":"rule",
 "encoding":{"x":{"field":"t","type":"quantitative","title":null,"scale":{"domain":[0,530],"nice":false},"axis":{"labels":false,"tickCount":53,"grid":true,"gridColor":"#0e340e"}},
  "y":{"datum":100,"type":"quantitative","title":null,"scale":{"domain":[0,100],"nice":false},"axis":{"values":[100],"grid":true,"gridColor":"#0e340e","labelFlush":false,"labelOverlap":false,"labelExpr":"'8192'"}},
  "y2":{"datum":0}}}
]
}
